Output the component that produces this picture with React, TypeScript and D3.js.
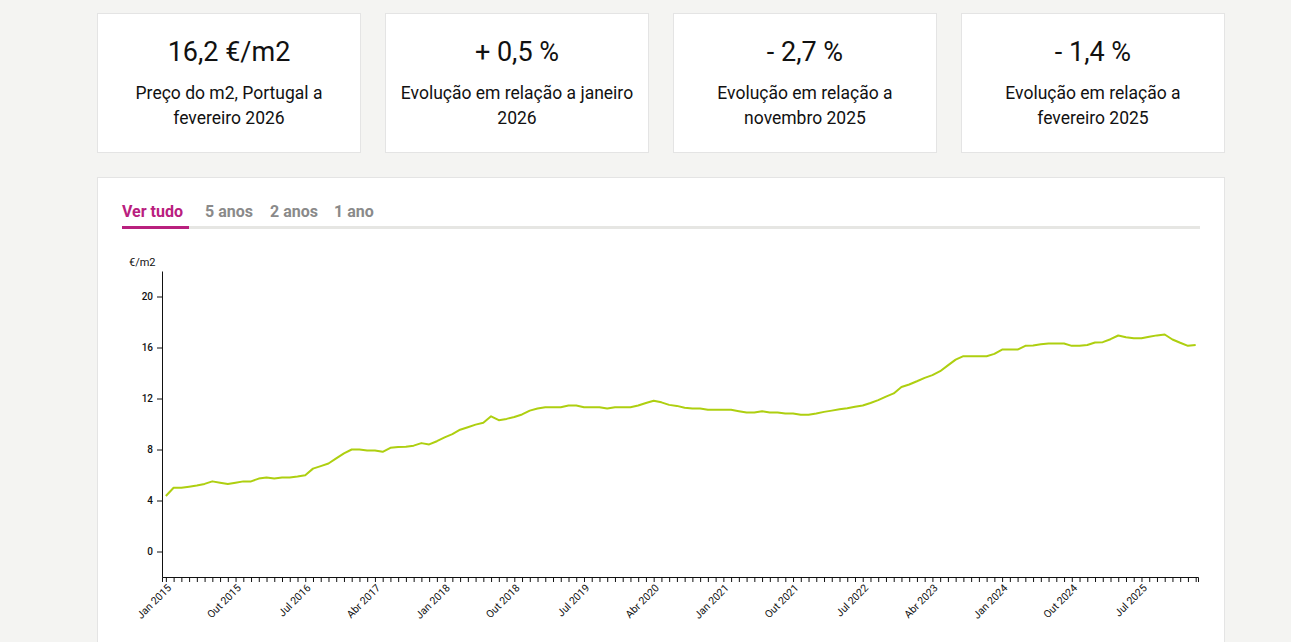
import { useEffect, useRef } from "react";
import * as d3 from "d3";

// Monthly price per m2, Jan 2015 .. Feb 2026
const prices: number[] = [
  4.35, 5.0, 5.0, 5.08, 5.17, 5.3, 5.5, 5.4, 5.3, 5.4, 5.5, 5.5,
  5.72, 5.8, 5.72, 5.8, 5.8, 5.88, 5.98, 6.5, 6.7, 6.9, 7.3, 7.7,
  8.0, 8.0, 7.93, 7.93, 7.82, 8.13, 8.2, 8.21, 8.3, 8.5, 8.4, 8.65,
  8.95, 9.2, 9.55, 9.75, 9.95, 10.1, 10.6, 10.3, 10.4, 10.55, 10.75, 11.05,
  11.22, 11.32, 11.32, 11.32, 11.45, 11.45, 11.32, 11.32, 11.32, 11.22, 11.32, 11.32,
  11.32, 11.45, 11.65, 11.82, 11.7, 11.5, 11.42, 11.28, 11.22, 11.22, 11.11, 11.11,
  11.11, 11.11, 11.0, 10.9, 10.9, 11.0, 10.9, 10.9, 10.82, 10.82, 10.72, 10.72,
  10.82, 10.95, 11.05, 11.15, 11.24, 11.35, 11.45, 11.65, 11.87, 12.15, 12.4, 12.9,
  13.1, 13.35, 13.62, 13.83, 14.14, 14.6, 15.05, 15.32, 15.32, 15.32, 15.32, 15.5,
  15.84, 15.84, 15.84, 16.13, 16.16, 16.25, 16.31, 16.31, 16.31, 16.13, 16.13, 16.2,
  16.39, 16.42, 16.65, 16.94, 16.8, 16.72, 16.73, 16.85, 16.95, 17.02, 16.63, 16.37,
  16.13, 16.2,
];
const monthNames = ["Jan", "Fev", "Mar", "Abr", "Mai", "Jun", "Jul", "Ago", "Set", "Out", "Nov", "Dez"];
const startYear = 2015;
const yTicks = [0, 4, 8, 12, 16, 20];
const tabs = ["Ver tudo", "5 anos", "2 anos", "1 ano"];
const cardValues = ["16,2 €/m2", "+ 0,5 %", "- 2,7 %", "- 1,4 %"];
const cardLabels = [
  ["Preço do m2, Portugal a", "fevereiro 2026"],
  ["Evolução em relação a janeiro", "2026"],
  ["Evolução em relação a", "novembro 2025"],
  ["Evolução em relação a", "fevereiro 2025"],
];

const W = 1291;
const H = 642;
const FONT = "Roboto, 'Open Sans', sans-serif";

export default function App() {
  const svgRef = useRef<SVGSVGElement>(null);

  useEffect(() => {
    if (!svgRef.current) return;
    const svg = d3.select(svgRef.current);
    svg.selectAll("*").remove();

    svg.append("rect").attr("width", W).attr("height", H).attr("fill", "#f4f4f2");

    // KPI cards
    const cardX = d3.scaleBand<number>().domain(d3.range(4)).range([97, 1249]).paddingInner(0);
    const cards = svg
      .selectAll("g.card")
      .data(cardValues)
      .join("g")
      .attr("class", "card")
      .attr("transform", (_, i) => `translate(${cardX(i)! + 0.5},13.5)`);
    cards
      .append("rect")
      .attr("width", 263)
      .attr("height", 139)
      .attr("fill", "#fff")
      .attr("stroke", "#e4e4e4");
    cards
      .append("text")
      .attr("x", 131.5)
      .attr("y", 47.5)
      .attr("text-anchor", "middle")
      .attr("font-family", FONT)
      .attr("font-size", 27)
      .attr("fill", "#111")
      .text((d) => d);
    cards.each(function (_, i) {
      d3.select(this)
        .selectAll("text.lbl")
        .data(cardLabels[i])
        .join("text")
        .attr("class", "lbl")
        .attr("x", 131.5)
        .attr("y", (_, j) => 85 + j * 25)
        .attr("text-anchor", "middle")
        .attr("font-family", FONT)
        .attr("font-size", 17.5)
        .attr("fill", "#111")
        .text((d) => d);
    });

    // chart card
    svg
      .append("rect")
      .attr("x", 97.5)
      .attr("y", 177.5)
      .attr("width", 1127)
      .attr("height", 480)
      .attr("fill", "#fff")
      .attr("stroke", "#e4e4e4");

    // tabs
    svg.append("rect").attr("x", 122).attr("y", 226).attr("width", 1078).attr("height", 3).attr("fill", "#e6e6e3");
    const tabX = [122, 205, 270, 334];
    svg
      .selectAll("text.tab")
      .data(tabs)
      .join("text")
      .attr("class", "tab")
      .attr("x", (_, i) => tabX[i])
      .attr("y", 217)
      .attr("font-family", FONT)
      .attr("font-weight", 700)
      .attr("font-size", 16)
      .attr("fill", (_, i) => (i === 0 ? "#b9207e" : "#8a8a8a"))
      .text((d) => d);
    svg.append("rect").attr("x", 122).attr("y", 226).attr("width", 67).attr("height", 3).attr("fill", "#b9207e");

    // plot
    const left = 162;
    const right = 1198;
    const top = 271;
    const bottom = 577;

    const x = d3.scaleLinear().domain([-0.5, prices.length - 0.7]).range([left, right]);
    const y = d3.scaleLinear().domain([-2, 22]).range([bottom, top]);

    const g = svg.append("g").attr("font-family", FONT);

    const yAxis = g
      .append("g")
      .attr("transform", `translate(${left},0)`)
      .call(d3.axisLeft(y).tickValues(yTicks).tickSize(5).tickPadding(4).tickSizeOuter(0));
    yAxis.selectAll("text").attr("font-size", 10).attr("font-family", FONT).attr("font-weight", 500).attr("fill", "#111");
    yAxis.selectAll("line, path").attr("stroke", "#111");

    const months = d3.range(prices.length);
    const xAxis = g
      .append("g")
      .attr("transform", `translate(0,${bottom})`)
      .call(
        d3
          .axisBottom(x)
          .tickValues(months)
          .tickSize(5)
          .tickSizeOuter(5)
          .tickFormat((d) => {
            const i = d as number;
            return i % 9 === 0 ? `${monthNames[i % 12]} ${startYear + Math.floor(i / 12)}` : "";
          })
      );
    xAxis.selectAll("line, path").attr("stroke", "#111");
    xAxis
      .selectAll("text")
      .attr("font-size", 10.5)
      .attr("font-family", FONT)
      .attr("fill", "#111")
      .attr("text-anchor", "end")
      .attr("y", 0)
      .attr("dy", "0.35em")
      .attr("transform", "translate(3,9) rotate(-45)");

    g.append("text")
      .attr("x", 129)
      .attr("y", 266)
      .attr("font-size", 11)
      .attr("fill", "#111")
      .text("€/m2");

    const line = d3
      .line<number>()
      .x((_, i) => x(i))
      .y((d) => y(d));

    g.append("path")
      .datum(prices)
      .attr("fill", "none")
      .attr("stroke", "#aecf10")
      .attr("stroke-width", 2)
      .attr("stroke-linejoin", "round")
      .attr("d", line);
  }, []);

  return (
    <div style={{ position: "absolute", left: 0, top: 0, width: W, height: H, overflow: "hidden" }}>
      <svg ref={svgRef} width={W} height={H} style={{ display: "block" }} />
    </div>
  );
}
